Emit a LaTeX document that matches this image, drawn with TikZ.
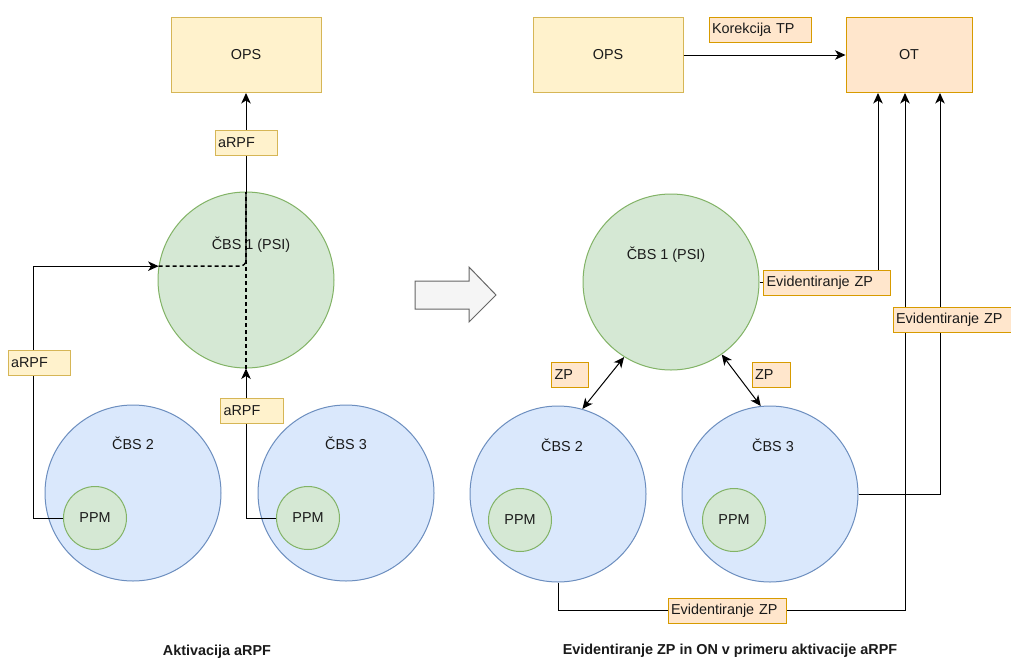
\documentclass[tikz,border=0pt]{standalone}
\usepackage{fontspec}
\setmainfont{Liberation Sans}
\usetikzlibrary{arrows.meta,positioning}

\definecolor{ylwfill}{HTML}{FFF2CC}
\definecolor{ylwline}{HTML}{D6B656}
\definecolor{orgfill}{HTML}{FFE6CC}
\definecolor{orgline}{HTML}{D79B00}
\definecolor{grnfill}{HTML}{D5E8D4}
\definecolor{grnline}{HTML}{82B366}
\definecolor{blufill}{HTML}{DAE8FC}
\definecolor{bluline}{HTML}{6C8EBF}
\definecolor{gryfill}{HTML}{F5F5F5}
\definecolor{gryline}{HTML}{666666}
\definecolor{ink}{HTML}{1A1A1A}

\begin{document}
\begin{tikzpicture}[x=1pt, y=-1pt,
            every node/.style={font=\fontsize{14.4}{17}\selectfont, text=ink},
            opsbox/.style={draw=ylwline, fill=ylwfill, line width=1pt, minimum width=150pt, minimum height=75pt},
            otbox/.style={draw=orgline, fill=orgfill, line width=1pt, minimum width=126pt, minimum height=75pt},
            cbsgreen/.style={circle, draw=grnline, fill=grnfill, line width=1pt, minimum size=176pt, inner sep=0pt},
            cbsblue/.style={circle, draw=bluline, fill=blufill, line width=1pt, minimum size=176pt, inner sep=0pt},
            ppm/.style={circle, draw=grnline, fill=grnfill, line width=1pt, minimum size=63pt, inner sep=0pt},
            lbly/.style={draw=ylwline, fill=ylwfill, line width=1pt, inner sep=3pt, minimum height=25pt, align=left},
            lblo/.style={draw=orgline, fill=orgfill, line width=1pt, inner sep=3pt, minimum height=25pt, align=left},
            flow/.style={line width=1pt, -{Stealth[length=10.5pt, width=9.5pt, inset=3pt]}},
            dflow/.style={line width=1pt, {Stealth[length=10.5pt, width=9.5pt, inset=3pt]}-{Stealth[length=10.5pt, width=9.5pt, inset=3pt]}},
            inner/.style={line width=1.4pt, dash pattern=on 4pt off 3pt},
            heading/.style={font=\fontsize{14.4}{17}\selectfont\bfseries}]
            \useasboundingbox (0,0) rectangle (1011,659);

            % Aktivacija aRPF
            \node[opsbox] (opsl) at (246,55) {OPS};
            \node[cbsgreen] (cbs1l) at (246,280) {};
            \node (cbs1lt) at (251,245) {ČBS 1 (PSI)};
            \node[cbsblue] (cbs2l) at (133,493) {};
            \node (cbs2lt) at (133,443) {ČBS 2};
            \node[ppm] (ppm2l) at (95,518) {PPM};
            \node[cbsblue] (cbs3l) at (346,493) {};
            \node (cbs3lt) at (346,443) {ČBS 3};
            \node[ppm] (ppm3l) at (308,518) {PPM};

            \draw[flow] (cbs1l.north) -- (opsl.south);
            \draw[inner] (cbs1l.south) -- (cbs1l.north);
            \draw[inner, rounded corners=6pt] (cbs1l.171.5) -- (cbs1l.center |- cbs1l.171.5) -- (cbs1l.north);
            \draw[flow] (ppm2l.west) -- ++(-30,0) |- (cbs1l.171.5);
            \draw[flow] (ppm3l.west) -| (cbs1l.south);

            \node[lbly, text width=56pt] (arpf1) at (246,143) {aRPF};
            \node[lbly, text width=56pt] (arpf2) at (39,363) {aRPF};
            \node[lbly, text width=57pt] (arpf3) at (252,411) {aRPF};

            \node[heading] (head1) at (217,652) {Aktivacija aRPF};

            % prehod
            \draw[draw=gryline, fill=gryfill, line width=1pt] (415,281) -- (469,281) -- (469,267) -- (496,295) -- (469,322) -- (469,309) -- (415,309) -- cycle;

            % Evidentiranje ZP in ON
            \node[opsbox] (opsr) at (608,55) {OPS};
            \node[otbox] (ot) at (909,55) {OT};
            \node[cbsgreen] (cbs1r) at (671,282) {};
            \node (cbs1rt) at (666,255) {ČBS 1 (PSI)};
            \node[cbsblue] (cbs2r) at (558,494) {};
            \node (cbs2rt) at (562,445) {ČBS 2};
            \node[ppm] (ppm2r) at (520,520) {PPM};
            \node[cbsblue] (cbs3r) at (770,494) {};
            \node (cbs3rt) at (773,445) {ČBS 3};
            \node[ppm] (ppm3r) at (734,520) {PPM};

            \draw[flow] (opsr.east) -- (ot.west);
            \draw[flow] (cbs1r.east) -| ([xshift=-31pt]ot.south);
            \draw[flow] (cbs3r.east) -| ([xshift=31pt]ot.south);
            \draw[flow] (cbs2r.south) -- ++(0,28) -| ([xshift=-4pt]ot.south);
            \draw[dflow] (cbs1r.238) -- (cbs2r.74);
            \draw[dflow] (cbs1r.305) -- (cbs3r.96);

            \node[lblo, text width=96pt] (korek) at (760,30) {Korekcija TP};
            \node[lblo, text width=121pt] (evid1) at (827,283) {Evidentiranje ZP};
            \node[lblo, text width=112pt] (evid2) at (952,320) {Evidentiranje ZP};
            \node[lblo, text width=112pt] (evid3) at (727,611) {Evidentiranje ZP};
            \node[lblo, text width=31pt] (zp1) at (570,375) {ZP};
            \node[lblo, text width=32pt] (zp2) at (771,375) {ZP};

            \node[heading] (head2) at (730,651) {Evidentiranje ZP in ON v primeru aktivacije aRPF};
        \end{tikzpicture}
\end{document}
